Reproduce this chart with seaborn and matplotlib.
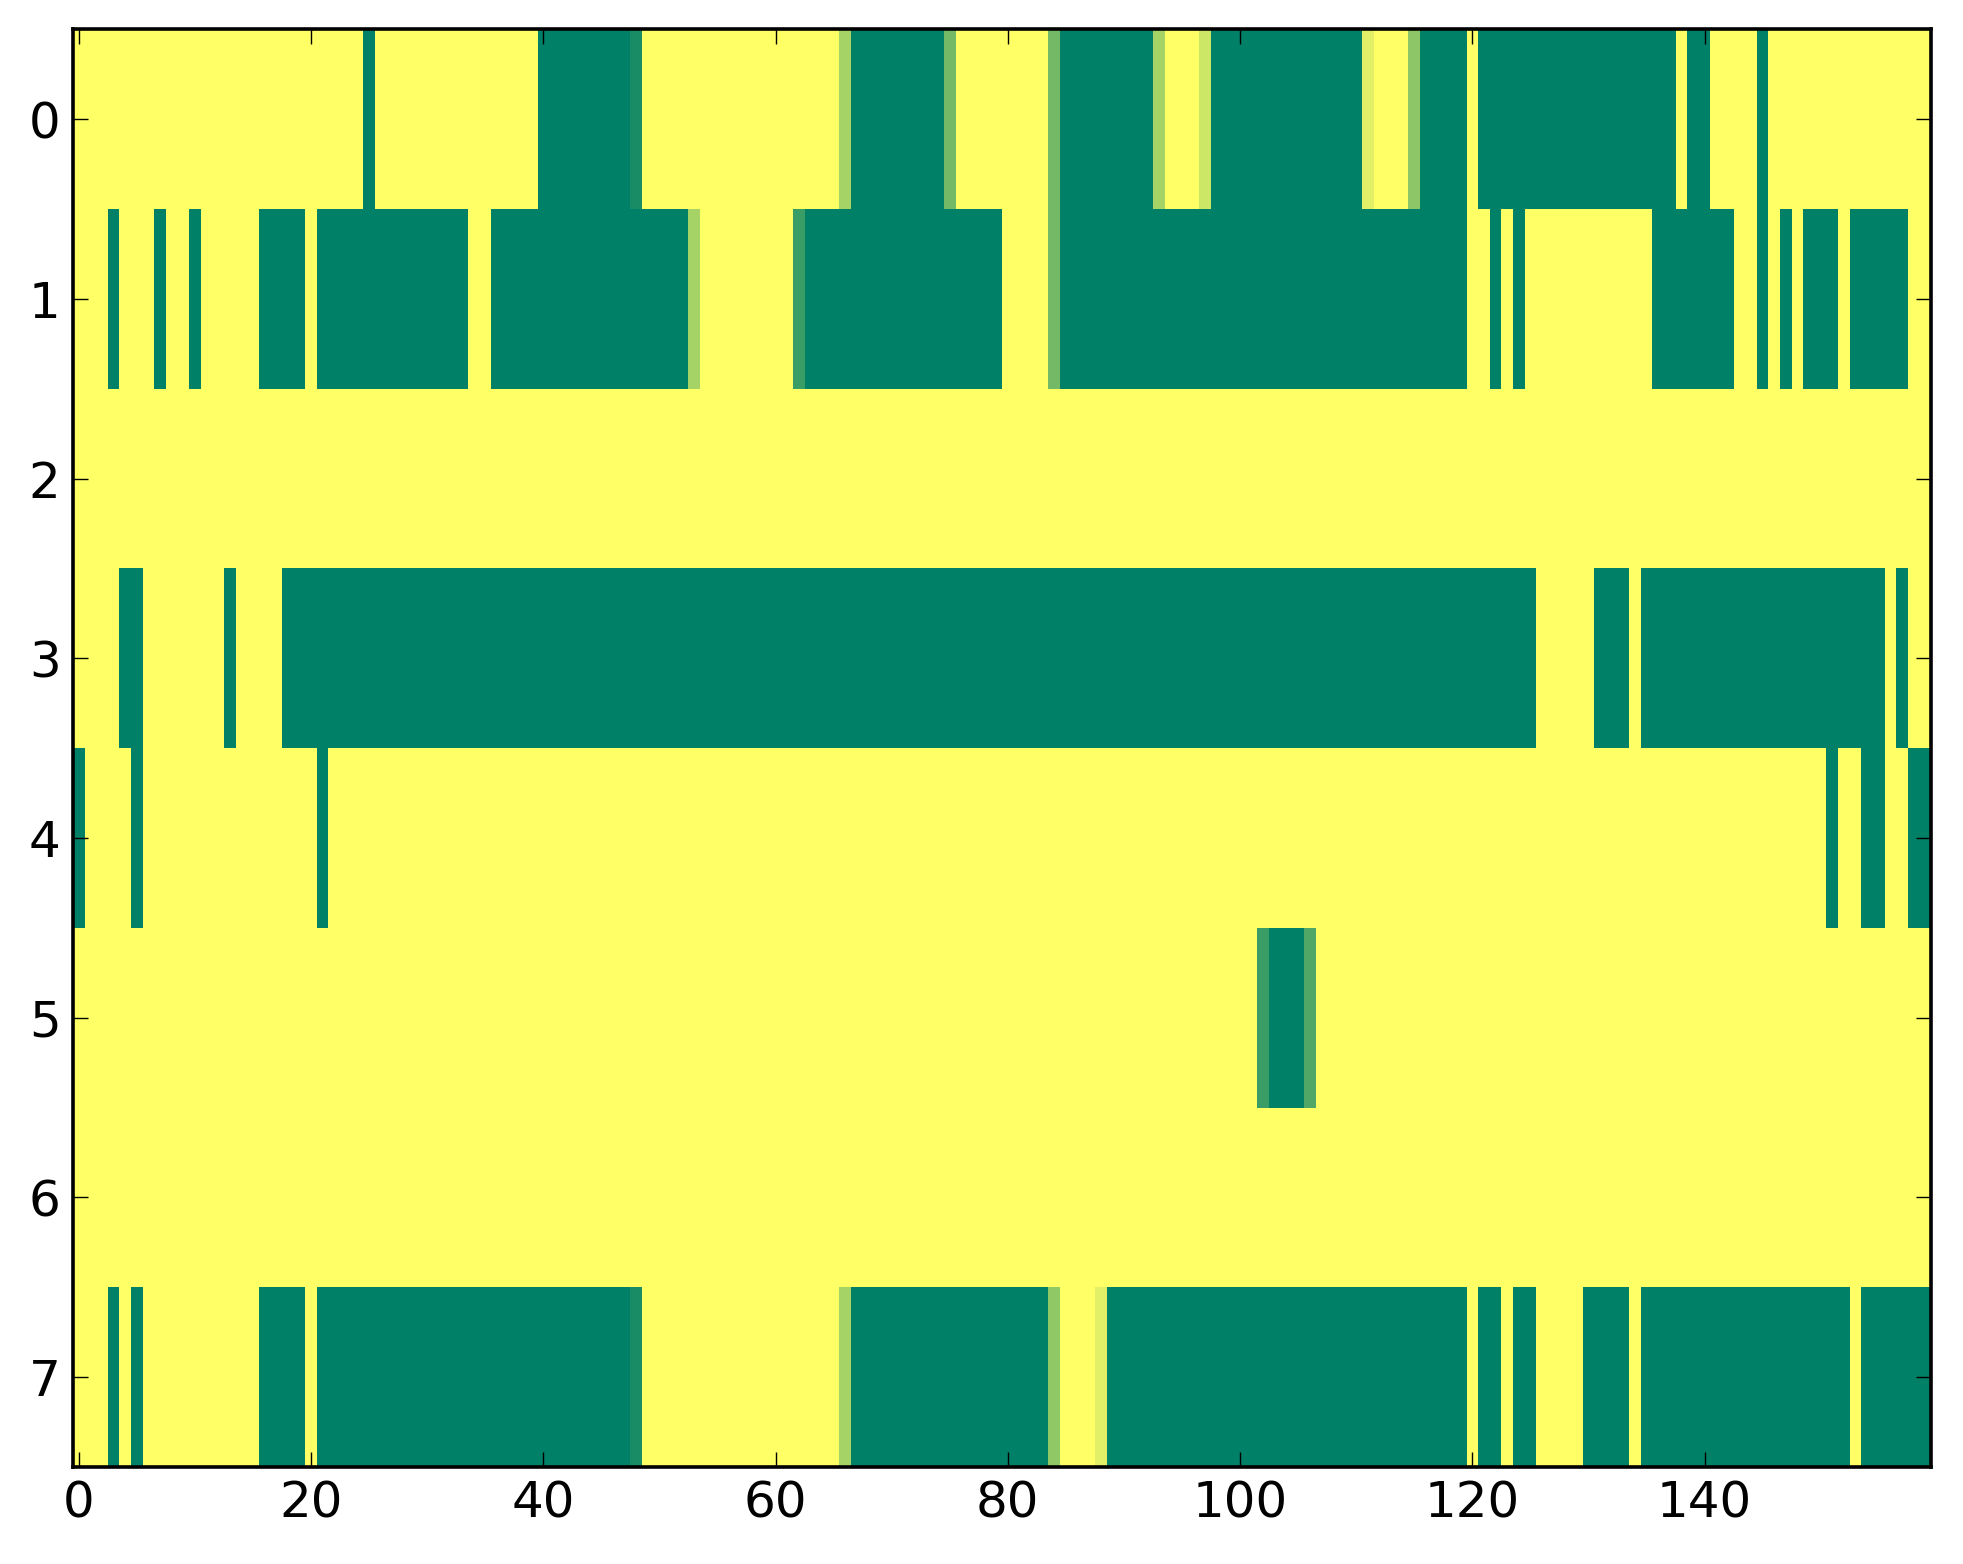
import numpy as np
import pandas as pd
import matplotlib
matplotlib.use("Agg")
import matplotlib.pyplot as plt
import seaborn as sns

# Run-length encoded rows: (value, count); value 1 = yellow, 0 = green
row0 = [(1, 25), (0, 1), (1, 14), (0, 8), (0.1, 1), (1, 17), (0.65, 1), (0, 8),
        (0.45, 1), (1, 8), (0.45, 1), (0, 8), (0.65, 1), (1, 3), (0.8, 1),
        (0, 13), (0.88, 1), (1, 3), (0.55, 1), (0, 4), (1, 1), (0, 17), (1, 1),
        (0, 2), (1, 4), (0, 1), (1, 14)]
row1 = [(1, 3), (0, 1), (1, 3), (0, 1), (1, 2), (0, 1), (1, 5), (0, 4), (1, 1),
        (0, 13), (1, 2), (0, 17), (0.65, 1), (1, 8), (0.23, 1), (0, 17), (1, 4),
        (0.45, 1), (0, 35), (1, 2), (0, 1), (1, 1), (0, 1), (1, 11), (0, 7),
        (1, 2), (0, 1), (1, 1), (0, 1), (1, 1), (0, 3), (1, 1), (0, 5), (1, 2)]
row2 = [(1, 160)]
row3 = [(1, 4), (0, 2), (1, 7), (0, 1), (1, 4), (0, 108), (1, 5), (0, 3), (1, 1),
        (0, 21), (1, 1), (0, 1), (1, 2)]
row4 = [(0, 1), (1, 4), (0, 1), (1, 15), (0, 1), (1, 129), (0, 1), (1, 2), (0, 2),
        (1, 2), (0, 2)]
row5 = [(1, 102), (0.23, 1), (0, 3), (0.32, 1), (1, 53)]
row6 = [(1, 160)]
row7 = [(1, 3), (0, 1), (1, 1), (0, 1), (1, 10), (0, 4), (1, 1), (0, 27), (0.1, 1),
        (1, 17), (0.65, 1), (0, 17), (0.57, 1), (1, 3), (0.88, 1), (0, 31), (1, 1),
        (0, 2), (1, 1), (0, 2), (1, 4), (0, 4), (1, 1), (0, 18), (1, 1), (0, 6)]

x_ticks = [0, 20, 40, 60, 80, 100, 120, 140]
y_ticks = [0, 1, 2, 3, 4, 5, 6, 7]


def expand(runs):
    vals = [v for v, n in runs]
    cnts = [n for v, n in runs]
    return np.repeat(vals, cnts)


data = np.vstack([expand(r) for r in [row0, row1, row2, row3, row4, row5, row6, row7]])
df = pd.DataFrame(data)

fig = plt.figure(figsize=(19.63, 15.64), dpi=100)
ax = fig.add_axes([0.0372, 0.062, 0.9465, 0.9193])
sns.heatmap(df, cmap="summer", vmin=0, vmax=1, cbar=False, ax=ax,
            xticklabels=False, yticklabels=False, linewidths=0)

ax.set_xticks(np.array(x_ticks) + 0.5)
ax.set_xticklabels([str(t) for t in x_ticks], rotation=0)
ax.set_yticks(np.array(y_ticks) + 0.5)
ax.set_yticklabels([str(t) for t in y_ticks], rotation=0)
ax.tick_params(direction="in", top=True, right=True, bottom=True, left=True,
               length=11, width=1.0, labelsize=36, pad=9, color="black")
for s in ax.spines.values():
    s.set_visible(True)
    s.set_linewidth(2.6)
    s.set_color("black")

fig.savefig("out.png", dpi=100)
